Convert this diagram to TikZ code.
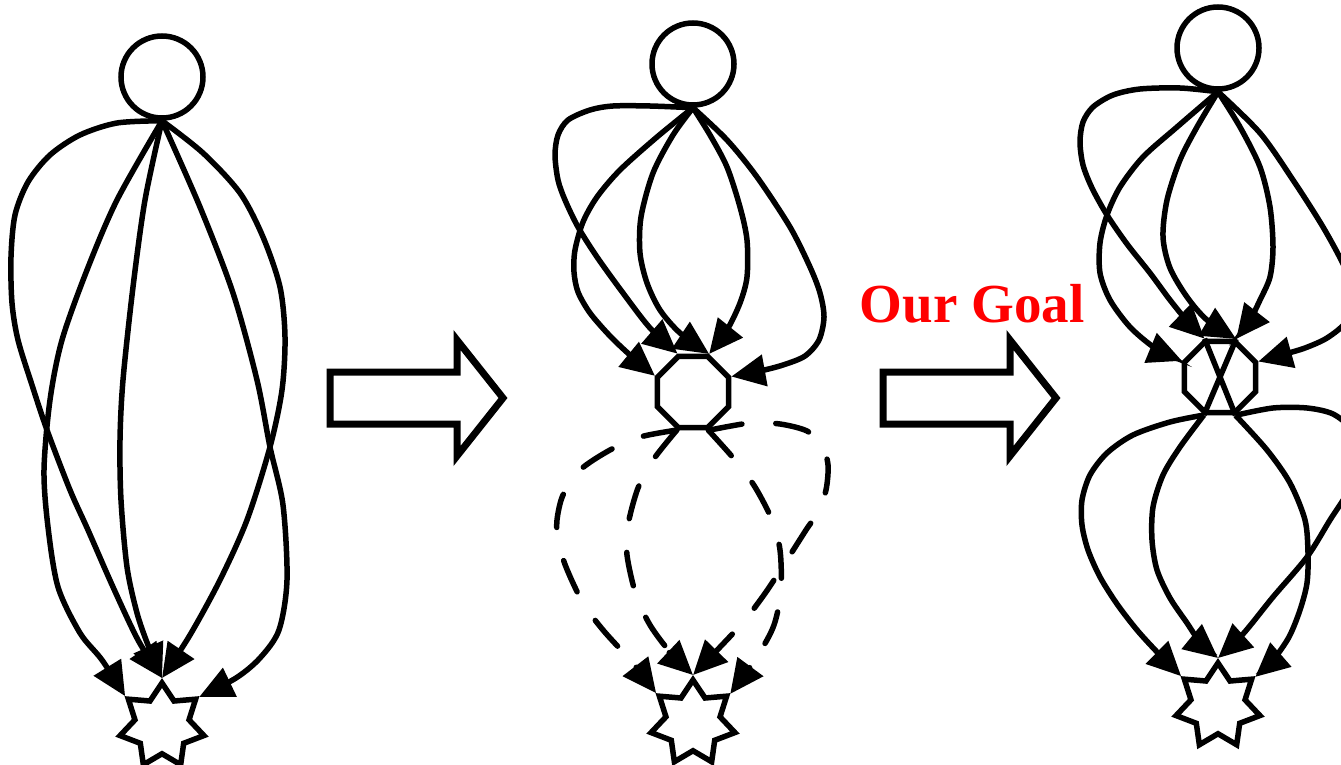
\documentclass[tikz,border=0pt]{standalone}
\usepackage{fontspec}
\setmainfont{Liberation Serif}
\usetikzlibrary{shapes.geometric,arrows.meta}

\begin{document}
\begin{tikzpicture}[
    x=1pt, y=-1pt, line width=5.5pt,
    src/.style={circle, draw, minimum size=82pt, inner sep=0pt},
    hub/.style={regular polygon, regular polygon sides=8, draw, minimum size=77pt, inner sep=0pt},
    sink/.style={star, star points=7, star point ratio=1.55, draw, minimum size=86pt, inner sep=0pt},
    arr/.style={-{Triangle[length=34pt, width=31pt]}},
    darr/.style={arr, dash pattern=on 34pt off 34pt, line cap=round},
    blk/.style={draw, line width=7pt, miter limit=20},
    goal/.style={text=red, font=\fontsize{55}{60}\selectfont\bfseries, inner sep=0pt}
]
    \useasboundingbox (0,0) rectangle (1341,765);
    \clip (0,0) rectangle (1341,765);

    % nodes
    \node [src] (s1) at (162,77) {};
    \node [sink] (t1) at (162,726) {};
    \node [src] (s2) at (693,64) {};
    \node [hub] (o2) at (693,392) {};
    \node [sink] (t2) at (693,723) {};
    \node [src] (s3) at (1218,48) {};
    \node [hub] (o3) at (1220,377) {};
    \node [sink] (t3) at (1218,706) {};

    % block arrows
    \foreach \bx in {330,883}
        \draw [blk] (\bx,372) -- ++(127,0) -- ++(0,-32) -- ++(46,58) -- ++(-46,58) -- ++(0,-32) -- ++(-127,0) -- cycle;
    \node [goal, anchor=base] (goal) at (972,322) {Our Goal};

    % left: source to sink
    \draw [arr] plot [smooth] coordinates {(s1.south) (117,123) (80,135) (50,155) (28,182) (15,215) (11,257) (12,303) (18,340) (32,385) (47,430) (70,490) (88,530) (113,587) (138,640) (t1.90)};
    \draw [arr] plot [smooth] coordinates {(s1.south) (117,200) (87,270) (62,340) (50,400) (44,470) (48,527) (58,587) (80,633) (102,660) (t1.141.43)};
    \draw [arr] plot [smooth] coordinates {(s1.south) (145,200) (133,287) (123,380) (120,440) (121,500) (127,567) (137,613) (148,645) (t1.90)};
    \draw [arr] plot [smooth] coordinates {(s1.south) (200,207) (233,293) (257,380) (270,447) (283,505) (287,580) (279,630) (260,658) (236,678) (t1.38.57)};
    \draw [arr] plot [smooth] coordinates {(s1.south) (203,153) (240,193) (263,237) (280,287) (285,337) (282,390) (270,447) (247,520) (220,580) (190,635) (t1.90)};

    % middle: source to hub
    \draw [arr] plot [smooth] coordinates {(s2.south) (650,106) (613,106) (590,110) (568,120) (558,135) (555,155) (558,180) (565,200) (578,227) (597,257) (623,293) (650,328) (o2.112.5)};
    \draw [arr] plot [smooth] coordinates {(s2.south) (657,137) (620,170) (597,197) (583,222) (575,250) (574,272) (578,292) (590,313) (610,336) (630,355) (o2.157.5)};
    \draw [arr] plot [smooth] coordinates {(s2.south) (673,135) (653,173) (641,217) (640,253) (647,283) (660,310) (680,333) (o2.67.5)};
    \draw [arr] plot [smooth] coordinates {(s2.south) (710,135) (727,167) (740,207) (747,240) (747,277) (740,303) (727,330) (o2.67.5)};
    \draw [arr] plot [smooth] coordinates {(s2.south) (727,140) (757,177) (790,227) (810,267) (820,293) (824,317) (819,340) (805,356) (783,365) (760,371) (o2.22.5)};

    % middle: hub to sink (dashed)
    \draw [darr] plot [smooth] coordinates {(o2.247.5) (640,437) (610,450) (580,470) (563,495) (557,520) (558,540) (566,567) (583,603) (603,630) (630,660) (t2.141.43)};
    \draw [darr] plot [smooth] coordinates {(o2.247.5) (653,460) (638,488) (628,525) (627,555) (636,595) (650,625) (670,652) (t2.90)};
    \draw [darr] plot [smooth] coordinates {(o2.292.5) (750,423) (780,424) (807,431) (822,445) (828,465) (826,490) (818,512) (806,530) (785,563) (766,592) (745,620) (722,645) (t2.90)};
    \draw [darr] plot [smooth] coordinates {(o2.292.5) (735,460) (755,487) (772,520) (780,550) (781,590) (774,625) (758,655) (t2.38.57)};

    % right: source to hub
    \draw [arr] plot [smooth] coordinates {(s3.south) (1180,88) (1140,89) (1113,95) (1093,107) (1083,122) (1080,142) (1083,165) (1092,188) (1107,215) (1127,244) (1150,273) (1170,300) (1188,322) (o3.112.5)};
    \draw [arr] plot [smooth] coordinates {(s3.south) (1177,127) (1143,157) (1120,187) (1107,215) (1100,243) (1100,273) (1110,300) (1130,327) (1155,348) (o3.157.5)};
    \draw [arr] plot [smooth] coordinates {(s3.south) (1197,127) (1180,160) (1167,200) (1163,237) (1170,268) (1187,297) (1207,320) (o3.67.5)};
    \draw [arr] plot [smooth] coordinates {(s3.south) (1240,127) (1260,167) (1270,207) (1273,247) (1270,277) (1260,300) (1250,320) (o3.67.5)};
    \draw [arr] plot [smooth] coordinates {(s3.south) (1260,133) (1293,180) (1323,227) (1345,268) (1355,298) (1346,322) (1327,338) (1305,348) (1285,354) (o3.22.5)};
    \draw (o3.112.5) -- (o3.292.5) (o3.67.5) -- (o3.247.5);

    % right: hub to sink
    \draw [arr] plot [smooth] coordinates {(o3.247.5) (1170,422) (1133,435) (1107,453) (1090,475) (1082,500) (1082,525) (1088,550) (1100,577) (1117,604) (1137,630) (1158,653) (t3.141.43)};
    \draw [arr] plot [smooth] coordinates {(o3.247.5) (1180,447) (1163,475) (1153,507) (1152,540) (1157,570) (1170,598) (1187,623) (1200,642) (t3.90)};
    \draw [arr] plot [smooth] coordinates {(o3.292.5) (1273,408) (1307,408) (1333,414) (1352,430) (1360,455) (1352,485) (1330,520) (1307,557) (1273,597) (1243,634) (t3.90)};
    \draw [arr] plot [smooth] coordinates {(o3.292.5) (1267,450) (1290,483) (1305,520) (1308,553) (1307,583) (1300,610) (1289,637) (1273,660) (t3.38.57)};
\end{tikzpicture}
\end{document}
